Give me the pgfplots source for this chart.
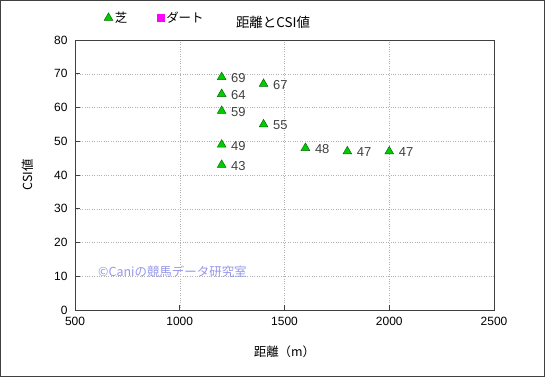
\documentclass[border=0pt]{standalone}
\usepackage{fontspec}
\setmainfont{Liberation Sans}
\newfontfamily\jp{Noto Sans CJK JP}
\usepackage{pgfplots}
\pgfplotsset{compat=1.18}
\definecolor{mkgreen}{RGB}{0,204,0}
\definecolor{mkedge}{RGB}{0,110,0}
\definecolor{mag}{RGB}{255,0,255}
\definecolor{wm}{RGB}{150,150,235}
\definecolor{lab}{RGB}{64,64,64}
\begin{document}
\begin{tikzpicture}[x=1bp,y=1bp]
\useasboundingbox (-75,-67) rectangle (470,310);
\draw[line width=1.4bp, color=lab] (-74.3,-66.3) rectangle (469.3,309.3);
\begin{axis}[
  at={(0,0)}, anchor=south west,
  scale only axis, width=419bp, height=270bp,
  xmin=500, xmax=2500, ymin=0, ymax=80,
  xtick distance=500, ytick distance=10,
  grid=major,
  major grid style={dotted, gray!60, line width=0.5bp},
  axis line style={color=lab, line width=0.9bp},
  tick style={color=lab, line width=0.6bp},
  tick align=inside, major tick length=5bp,
  xtick pos=bottom, ytick pos=left,
  /pgf/number format/assume math mode=true,
  /pgf/number format/set thousands separator={},
  tick label style={font=\fontsize{12}{14}\selectfont, text=black},
  xticklabel style={yshift=-4bp},
  yticklabel style={xshift=-4bp},
  xlabel={\jp 距離（m）},
  ylabel={\jp CSI値},
  xlabel style={at={(axis description cs:0.5,-0.155)}, anchor=center, font=\fontsize{12.5}{14}\selectfont},
  ylabel style={at={(axis description cs:-0.112,0.5)}, anchor=center, font=\fontsize{12.5}{14}\selectfont},
  legend style={at={(axis description cs:0.062,1.082)}, anchor=west, draw=none, fill=none,
    legend columns=2, font=\fontsize{12.5}{14}\selectfont\jp,
    /tikz/every even column/.append style={column sep=28bp}},
  legend cell align=left,
]
\addplot[only marks, mark=triangle*, mark size=5bp,
  mark options={fill=mkgreen, draw=mkedge, line width=0.5bp},
  nodes near coords={\pgfmathprintnumber{\pgfplotspointmeta}},
  point meta=y,
  every node near coord/.append style={anchor=west, xshift=6bp, yshift=-1bp, text=lab,
    font=\fontsize{13}{15}\selectfont}]
  coordinates {
  (1200,69) (1200,64) (1200,59) (1200,49) (1200,43)
  (1400,67) (1400,55) (1600,48) (1800,47) (2000,47)
  };
\addlegendentry{芝}
\addlegendimage{only marks, mark=square*, mark size=3.5bp, color=mag}
\addlegendentry{ダート}
\node[anchor=west, text=wm, font=\fontsize{12.5}{14}\selectfont\jp, inner sep=0pt] at (axis cs:610,11.3) {©Caniの競馬データ研究室};
\end{axis}
\node[font=\fontsize{13.5}{15}\selectfont\jp] at (198,288) {距離とCSI値};
\end{tikzpicture}
\end{document}
